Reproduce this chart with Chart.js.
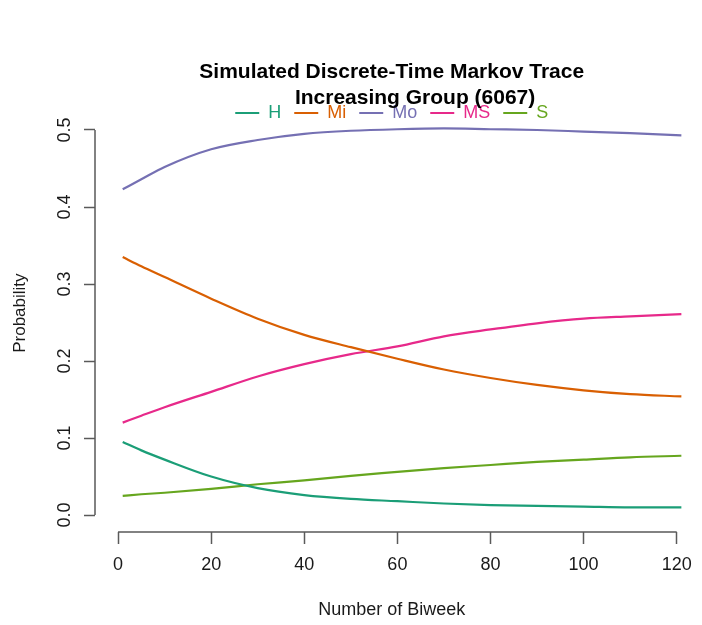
<!DOCTYPE html>
<html>
<head>
<meta charset="utf-8">
<title>Simulated Discrete-Time Markov Trace</title>
<script src="https://cdn.jsdelivr.net/npm/chart.js@4.4.1/dist/chart.umd.min.js"></script>
<style>
  html, body { margin: 0; padding: 0; background: #fff; }
  #chart { display: block; }
</style>
</head>
<body>
<canvas id="chart" width="702" height="625"></canvas>
<script>
// Dados (biweek x probabilidade)
const biweek = [1, 5, 10, 20, 30, 40, 50, 60, 70, 80, 90, 100, 110, 121];
const probH  = [0.095, 0.084, 0.072, 0.050, 0.035, 0.026, 0.021, 0.018, 0.015, 0.013, 0.012, 0.011, 0.010, 0.010];
const probMi = [0.335, 0.323, 0.309, 0.281, 0.255, 0.234, 0.218, 0.203, 0.189, 0.178, 0.169, 0.162, 0.157, 0.154];
const probMo = [0.423, 0.436, 0.452, 0.475, 0.487, 0.495, 0.499, 0.501, 0.502, 0.501, 0.500, 0.498, 0.496, 0.493];
const probMS = [0.120, 0.129, 0.140, 0.160, 0.180, 0.196, 0.209, 0.219, 0.232, 0.241, 0.249, 0.255, 0.258, 0.261];
const probS  = [0.025, 0.027, 0.029, 0.034, 0.040, 0.045, 0.051, 0.056, 0.061, 0.065, 0.069, 0.072, 0.075, 0.077];

const states = ['H', 'Mi', 'Mo', 'MS', 'S'];
const colors = ['#1b9e77', '#d95f02', '#7570b3', '#e7298a', '#66a61e'];

const xTicks = [0, 20, 40, 60, 80, 100, 120];
const yTicks = [0, 0.1, 0.2, 0.3, 0.4, 0.5];

// fonte estreita se existir, senão a normal um pouco menor
function hasNarrow() {
    const c = document.createElement('canvas').getContext('2d');
    c.font = '20px "Liberation Sans Narrow", monospace';
    const a = c.measureText('Number of Biweek').width;
    c.font = '20px "Liberation Sans", monospace';
    const b = c.measureText('Number of Biweek').width;
    return a < b * 0.93;
}
const narrow = hasNarrow();
const hFamily = narrow ? '"Liberation Sans Narrow", "Liberation Sans", Arial, sans-serif' : '"Liberation Sans", Arial, sans-serif';
const hSize = narrow ? 22 : 18;
const titleSize = narrow ? 26 : 21;
const vFamily = '"Liberation Sans", Arial, sans-serif';
const axisColor = '#5a5a5a';

// Linhas dos eixos só entre o primeiro e o último tick (como no R)
const axisLines = {
    id: 'axisLines',
    afterDraw(chart) {
        const {ctx, chartArea, scales: {x, y}} = chart;
        ctx.save();
        ctx.strokeStyle = axisColor;
        ctx.lineWidth = 1.5;
        ctx.beginPath();
        ctx.moveTo(x.getPixelForValue(xTicks[0]), chartArea.bottom);
        ctx.lineTo(x.getPixelForValue(xTicks[xTicks.length - 1]), chartArea.bottom);
        ctx.moveTo(chartArea.left, y.getPixelForValue(yTicks[0]));
        ctx.lineTo(chartArea.left, y.getPixelForValue(yTicks[yTicks.length - 1]));
        ctx.stroke();
        ctx.restore();
    }
};

const series = [probH, probMi, probMo, probMS, probS];

const ctx = document.getElementById('chart').getContext('2d');
const chart = new Chart(ctx, {
    type: 'line',
    data: {
        datasets: states.map((s, i) => ({
            label: s,
            data: biweek.map((b, j) => ({x: b, y: series[i][j]})),
            borderColor: colors[i],
            backgroundColor: colors[i],
            borderWidth: 2.2,
            pointRadius: 0,
            fill: false,
            cubicInterpolationMode: 'monotone',
            clip: false
        }))
    },
    options: {
        responsive: false,
        animation: false,
        devicePixelRatio: 1,
        layout: {
            padding: {top: 0, right: 2, bottom: 0, left: 0}
        },
        plugins: {
            title: {
                display: true,
                fullSize: false,
                // a 2a linha do título original vem com recuo
                text: ['Simulated Discrete-Time Markov Trace', '        Increasing Group (6067)'],
                color: '#000',
                font: {family: hFamily, size: titleSize, weight: 'bold', lineHeight: 26 / titleSize},
                padding: {top: 59, bottom: -20}
            },
            legend: {
                display: true,
                position: 'top',
                fullSize: false,
                align: 'center',
                labels: {
                    usePointStyle: true,
                    pointStyleWidth: 24,
                    padding: 13,
                    font: {family: hFamily, size: hSize},
                    generateLabels(chart) {
                        return chart.data.datasets.map((ds, i) => ({
                            text: ds.label,
                            strokeStyle: ds.borderColor,
                            fillStyle: ds.borderColor,
                            fontColor: ds.borderColor,
                            lineWidth: 2.2,
                            pointStyle: 'line',
                            hidden: false,
                            datasetIndex: i
                        }));
                    }
                }
            },
            tooltip: {enabled: false}
        },
        scales: {
            x: {
                type: 'linear',
                min: -4.95,
                max: 122.53,
                afterBuildTicks(scale) {
                    scale.ticks = xTicks.map(v => ({value: v}));
                },
                afterFit(scale) { scale.height = 93; },
                grid: {drawOnChartArea: false, drawTicks: true, tickLength: 12, tickWidth: 1.5, tickColor: axisColor},
                border: {display: false},
                ticks: {
                    color: '#1a1a1a',
                    padding: 10,
                    maxRotation: 0,
                    font: {family: hFamily, size: hSize}
                },
                title: {
                    display: true,
                    text: 'Number of Biweek',
                    color: '#1a1a1a',
                    font: {family: hFamily, size: hSize},
                    padding: {top: 0, bottom: 4}
                }
            },
            y: {
                type: 'linear',
                min: -0.022,
                max: 0.4974, // a área começa 2px abaixo do 0.5, como a legenda do original
                afterBuildTicks(scale) {
                    scale.ticks = yTicks.map(v => ({value: v}));
                },
                afterFit(scale) { scale.width = 95; },
                grid: {drawOnChartArea: false, drawTicks: true, tickLength: 11, tickWidth: 1.5, tickColor: axisColor},
                border: {display: false},
                ticks: {
                    color: '#1a1a1a',
                    padding: 6,
                    minRotation: 90,
                    maxRotation: 90,
                    crossAlign: 'center',
                    font: {family: vFamily, size: 18},
                    callback: v => v.toFixed(1)
                },
                title: {
                    display: true,
                    // no R a região do gráfico sobe até a legenda, o rótulo fica mais alto
                    text: '        Probability',
                    color: '#1a1a1a',
                    font: {family: vFamily, size: 17},
                    padding: {top: 10, bottom: 0}
                }
            }
        }
    },
    plugins: [axisLines]
});
</script>
</body>
</html>
